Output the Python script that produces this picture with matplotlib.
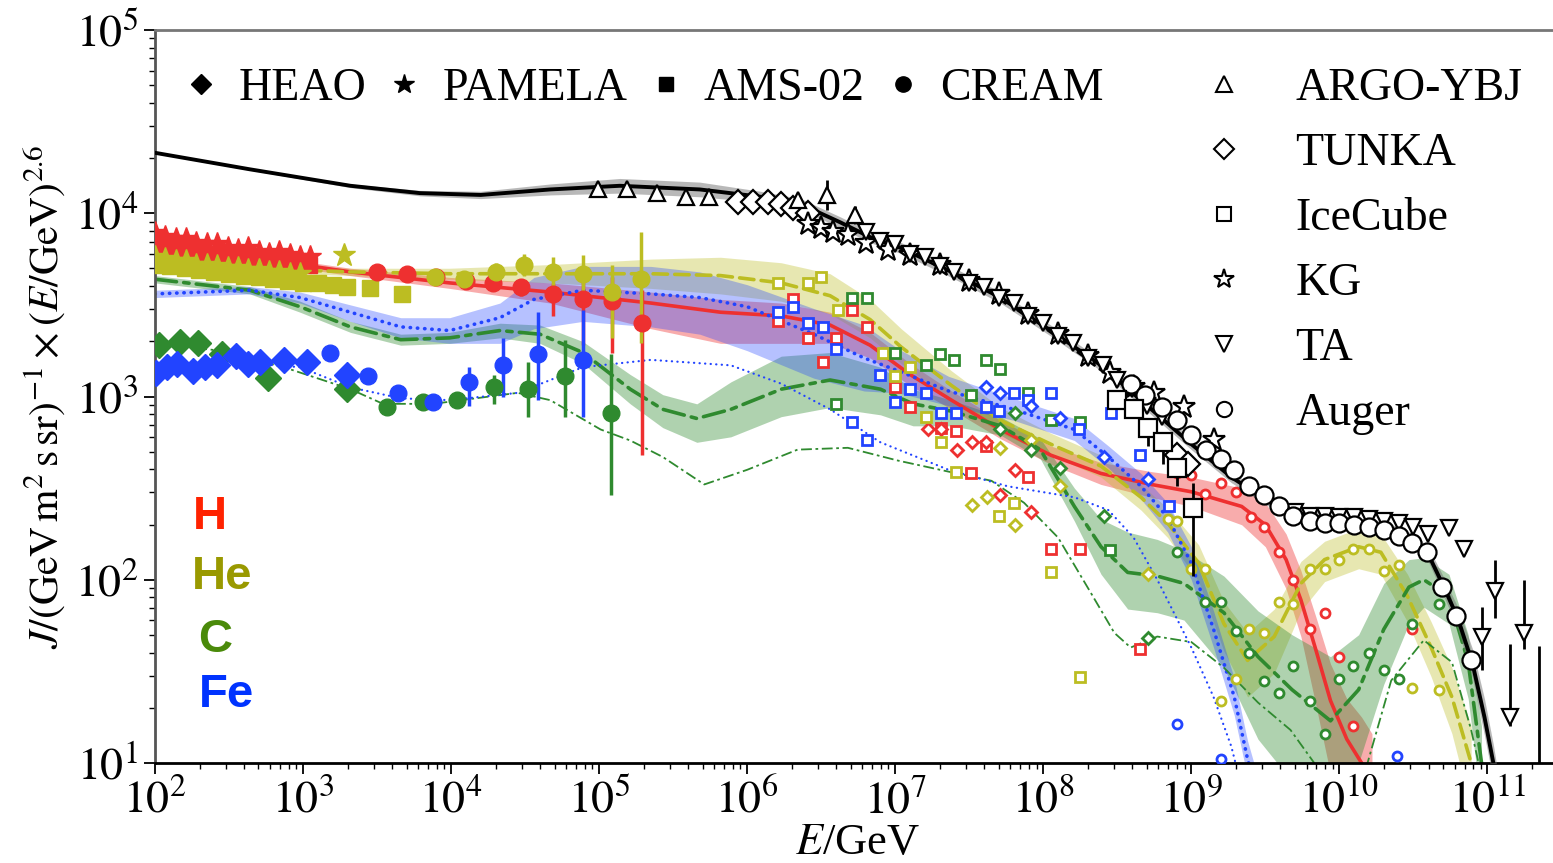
import numpy as np
import matplotlib.pyplot as plt
from matplotlib.lines import Line2D

plt.rcParams['font.family'] = ['Liberation Serif', 'DejaVu Serif']
plt.rcParams['mathtext.fontset'] = 'stix'

RED = '#ee3030'
OLIVE = '#bcbd22'
GREEN = '#2f8a2f'
BLUE = '#2244ff'

# ---------------- data: log10(E/GeV), log10(J E^2.6) ----------------
# all-particle fit (black) with its band
tot_lgE = [2.00, 2.64, 3.32, 3.79, 4.20, 4.67, 5.14, 5.68, 6.09, 6.36, 6.63, 6.83, 7.04, 7.38, 7.71, 8.05,
           8.39, 8.73, 9.00, 9.27, 9.50, 9.74, 10.00, 10.30, 10.50, 10.60, 10.70, 10.80, 10.90, 10.98, 11.04, 11.08]
tot_lgJ = [4.33, 4.24, 4.15, 4.11, 4.10, 4.13, 4.15, 4.13, 4.09, 4.05, 3.95, 3.87, 3.81, 3.68, 3.54, 3.36,
           3.17, 2.93, 2.74, 2.56, 2.44, 2.36, 2.32, 2.29, 2.22, 2.14, 1.97, 1.79, 1.54, 1.25, 1.00, 0.80]
tot_d = [0.005, 0.005, 0.01, 0.015, 0.02, 0.03, 0.04, 0.04, 0.03, 0.03, 0.03, 0.03, 0.03, 0.03, 0.03, 0.03,
         0.03, 0.03, 0.03, 0.03, 0.03, 0.03, 0.03, 0.03, 0.03, 0.04, 0.05, 0.06, 0.08, 0.10, 0.10, 0.10]

# H fit
H_lgE = [2.00, 2.64, 3.32, 3.99, 4.67, 5.35, 5.82, 6.23, 6.56, 6.83, 7.10, 7.38, 7.71, 8.05, 8.39, 8.73,
         9.00, 9.34, 9.50, 9.64, 9.74, 9.84, 9.94, 10.05, 10.15, 10.22]
H_lgJ = [3.85, 3.76, 3.68, 3.62, 3.57, 3.51, 3.46, 3.44, 3.39, 3.28, 3.12, 2.98, 2.82, 2.68, 2.58, 2.52,
         2.48, 2.40, 2.30, 2.11, 1.89, 1.62, 1.34, 1.13, 1.00, 0.91]
H_dlo = [0.02, 0.02, 0.02, 0.03, 0.06, 0.14, 0.17, 0.15, 0.10, 0.07, 0.06, 0.05, 0.05, 0.05, 0.06, 0.07,
         0.08, 0.10, 0.12, 0.16, 0.20, 0.30, 0.40, 0.50, 0.50, 0.50]
H_dhi = [0.02, 0.02, 0.02, 0.03, 0.05, 0.06, 0.07, 0.07, 0.07, 0.07, 0.06, 0.05, 0.05, 0.05, 0.06, 0.07,
         0.08, 0.10, 0.12, 0.14, 0.16, 0.18, 0.20, 0.22, 0.25, 0.25]

# He fit
He_lgE = [2.00, 2.64, 3.32, 3.99, 4.67, 5.35, 5.82, 6.23, 6.56, 6.83, 7.04, 7.38, 7.71, 8.05, 8.39, 8.66,
          8.84, 9.05, 9.22, 9.38, 9.56, 9.74, 9.90, 10.13, 10.28, 10.46, 10.62, 10.76, 10.89]
He_lgJ = [3.73, 3.70, 3.68, 3.67, 3.67, 3.67, 3.66, 3.62, 3.55, 3.42, 3.27, 3.06, 2.87, 2.74, 2.62, 2.45,
          2.31, 2.09, 1.76, 1.56, 1.69, 1.98, 2.11, 2.18, 2.15, 1.91, 1.63, 1.36, 1.00]
He_dlo = [0.02, 0.02, 0.02, 0.03, 0.05, 0.08, 0.10, 0.10, 0.10, 0.10, 0.09, 0.08, 0.07, 0.06, 0.06, 0.07,
          0.08, 0.10, 0.15, 0.20, 0.20, 0.15, 0.12, 0.12, 0.12, 0.14, 0.16, 0.20, 0.25]
He_dhi = [0.02, 0.02, 0.02, 0.03, 0.05, 0.08, 0.10, 0.11, 0.12, 0.11, 0.10, 0.08, 0.07, 0.06, 0.06, 0.07,
          0.08, 0.10, 0.12, 0.15, 0.15, 0.12, 0.10, 0.10, 0.10, 0.12, 0.14, 0.16, 0.20]

# C fit
C_lgE = [2.00, 2.64, 2.98, 3.32, 3.66, 3.99, 4.33, 4.60, 4.89, 5.21, 5.43, 5.66, 5.89, 6.23, 6.56, 6.90,
         7.12, 7.38, 7.71, 7.98, 8.21, 8.39, 8.57, 8.77, 8.95, 9.22, 9.45, 9.68, 9.94, 10.13, 10.30, 10.47,
         10.57, 10.74, 10.87, 10.96]
C_lgJ = [3.64, 3.58, 3.49, 3.38, 3.31, 3.32, 3.36, 3.34, 3.24, 3.04, 2.93, 2.88, 2.93, 3.04, 3.09, 3.04,
         2.96, 2.92, 2.84, 2.71, 2.40, 2.18, 2.04, 2.02, 1.98, 1.82, 1.58, 1.40, 1.23, 1.40, 1.73, 1.96,
         2.00, 1.91, 1.55, 1.00]
C_dlo = [0.02, 0.02, 0.03, 0.03, 0.03, 0.03, 0.04, 0.05, 0.06, 0.08, 0.10, 0.13, 0.15, 0.15, 0.15, 0.14,
         0.12, 0.08, 0.05, 0.05, 0.08, 0.15, 0.20, 0.20, 0.20, 0.30, 0.45, 0.50, 0.50, 0.40, 0.30, 0.20,
         0.15, 0.15, 0.20, 0.25]
C_dhi = [0.02, 0.02, 0.03, 0.03, 0.03, 0.03, 0.04, 0.05, 0.06, 0.08, 0.08, 0.08, 0.15, 0.18, 0.15, 0.12,
         0.08, 0.06, 0.05, 0.06, 0.10, 0.15, 0.22, 0.20, 0.18, 0.20, 0.25, 0.30, 0.35, 0.30, 0.25, 0.15,
         0.12, 0.12, 0.15, 0.20]

# Fe fit
Fe_lgE = [2.00, 2.64, 2.98, 3.32, 3.66, 3.99, 4.33, 4.56, 4.89, 5.35, 5.68, 6.00, 6.45, 6.79, 7.02, 7.36,
          7.80, 8.21, 8.44, 8.66, 8.84, 9.00, 9.15, 9.29, 9.38, 9.44]
Fe_lgJ = [3.56, 3.58, 3.54, 3.46, 3.38, 3.36, 3.43, 3.53, 3.58, 3.56, 3.54, 3.49, 3.34, 3.21, 3.14, 3.03,
          2.93, 2.82, 2.67, 2.51, 2.34, 2.09, 1.73, 1.36, 1.02, 0.85]
Fe_dlo = [0.02, 0.02, 0.03, 0.05, 0.06, 0.07, 0.14, 0.16, 0.17, 0.18, 0.20, 0.24, 0.24, 0.18, 0.12, 0.08,
          0.06, 0.06, 0.06, 0.07, 0.08, 0.09, 0.10, 0.10, 0.10, 0.10]
Fe_dhi = [0.02, 0.02, 0.03, 0.04, 0.05, 0.07, 0.08, 0.12, 0.13, 0.15, 0.14, 0.12, 0.14, 0.18, 0.12, 0.08,
          0.06, 0.06, 0.06, 0.07, 0.08, 0.09, 0.10, 0.10, 0.10, 0.10]

# second (thin) C and Fe curves
C2_lgE = [2.00, 2.44, 2.87, 3.32, 3.54, 3.88, 4.45, 4.67, 5.01, 5.21, 5.43, 5.71, 6.00, 6.34, 6.68, 7.02,
          7.36, 7.65, 7.87, 8.10, 8.32, 8.48, 8.59, 8.77, 9.00, 9.22, 9.45, 9.67, 9.83, 10.00, 10.19, 10.35,
          10.57, 10.76, 10.89, 10.94]
C2_lgJ = [3.29, 3.25, 3.16, 3.04, 2.96, 2.96, 3.02, 2.98, 2.82, 2.76, 2.67, 2.52, 2.60, 2.71, 2.72, 2.65,
          2.59, 2.54, 2.42, 2.23, 1.93, 1.71, 1.63, 1.69, 1.66, 1.52, 1.33, 1.18, 1.00, 0.70, 1.00, 1.45,
          1.67, 1.55, 1.18, 1.00]
Fe2_lgE = [2.00, 2.64, 2.98, 3.32, 3.66, 3.99, 4.45, 4.89, 5.35, 5.89, 6.23, 6.56, 6.90, 7.36, 7.76, 8.21,
           8.44, 8.61, 8.77, 9.00, 9.15, 9.27, 9.32]
Fe2_lgJ = [3.18, 3.18, 3.16, 3.05, 2.99, 2.98, 3.02, 3.16, 3.20, 3.17, 3.07, 2.93, 2.75, 2.60, 2.51, 2.45,
           2.38, 2.23, 2.00, 1.63, 1.36, 1.09, 0.93]

# direct measurements
PAM_H_lgE = [2.00, 2.07, 2.14, 2.21, 2.28, 2.35, 2.42, 2.49, 2.56, 2.63, 2.70, 2.77, 2.84, 2.91, 2.98, 3.05]
PAM_H_lgJ = [3.89, 3.87, 3.86, 3.86, 3.84, 3.83, 3.83, 3.81, 3.80, 3.81, 3.79, 3.78, 3.79, 3.77, 3.76, 3.76]
AMS_H_lgE = [2.00, 2.08, 2.16, 2.24, 2.32, 2.40, 2.48, 2.56, 2.64, 2.72, 2.80, 2.88, 2.96, 3.04]
AMS_H_lgJ = [3.83, 3.82, 3.81, 3.80, 3.79, 3.78, 3.77, 3.76, 3.76, 3.75, 3.74, 3.74, 3.73, 3.72]
PAM_He_lgE = [2.00, 2.07, 2.14, 2.21, 2.28, 2.35, 2.42, 2.49, 2.56, 2.63, 2.70, 2.77, 2.84, 2.91, 2.98, 3.28]
PAM_He_lgJ = [3.76, 3.75, 3.74, 3.74, 3.72, 3.72, 3.71, 3.70, 3.70, 3.69, 3.69, 3.68, 3.68, 3.67, 3.67, 3.77]
AMS_He_lgE = [2.00, 2.10, 2.20, 2.30, 2.40, 2.50, 2.60, 2.70, 2.80, 2.90, 3.00, 3.10, 3.20, 3.30, 3.45, 3.67]
AMS_He_lgJ = [3.72, 3.71, 3.70, 3.69, 3.68, 3.67, 3.66, 3.65, 3.64, 3.63, 3.62, 3.62, 3.61, 3.60, 3.59, 3.56]
HEAO_C_lgE = [2.03, 2.17, 2.29, 2.45, 2.76, 3.30]
HEAO_C_lgJ = [3.28, 3.30, 3.29, 3.23, 3.10, 3.04]
HEAO_Fe_lgE = [2.01, 2.08, 2.15, 2.26, 2.34, 2.42, 2.55, 2.63, 2.71, 2.87, 3.03, 3.30]
HEAO_Fe_lgJ = [3.13, 3.16, 3.18, 3.14, 3.16, 3.17, 3.22, 3.18, 3.19, 3.20, 3.19, 3.12]

CR_H_lgE = [3.50, 3.70, 3.90, 4.10, 4.28, 4.47, 4.69, 4.89, 5.09, 5.29]
CR_H_lgJ = [3.68, 3.67, 3.65, 3.63, 3.62, 3.60, 3.56, 3.53, 3.52, 3.40]
CR_H_elo = [0.02, 0.02, 0.02, 0.03, 0.03, 0.05, 0.12, 0.25, 0.28, 0.72]
CR_H_ehi = [0.02, 0.02, 0.02, 0.03, 0.03, 0.04, 0.06, 0.12, 0.13, 0.18]
CR_He_lgE = [3.89, 4.09, 4.30, 4.49, 4.69, 4.89, 5.09, 5.28]
CR_He_lgJ = [3.65, 3.64, 3.68, 3.72, 3.68, 3.67, 3.57, 3.64]
CR_He_elo = [0.02, 0.02, 0.05, 0.06, 0.10, 0.15, 0.25, 0.35]
CR_He_ehi = [0.02, 0.02, 0.05, 0.06, 0.08, 0.10, 0.15, 0.26]
CR_C_lgE = [3.57, 3.81, 4.04, 4.29, 4.52, 4.77, 5.08]
CR_C_lgJ = [2.94, 2.97, 2.98, 3.05, 3.04, 3.11, 2.91]
CR_C_elo = [0.02, 0.02, 0.03, 0.09, 0.15, 0.22, 0.45]
CR_C_ehi = [0.02, 0.02, 0.03, 0.07, 0.15, 0.20, 0.32]
CR_Fe_lgE = [3.18, 3.44, 3.64, 3.88, 4.12, 4.35, 4.59, 4.89]
CR_Fe_lgJ = [3.24, 3.11, 3.02, 2.97, 3.08, 3.17, 3.23, 3.20]
CR_Fe_elo = [0.02, 0.02, 0.02, 0.03, 0.13, 0.17, 0.25, 0.31]
CR_Fe_ehi = [0.02, 0.02, 0.02, 0.03, 0.08, 0.15, 0.23, 0.27]

# air-shower all-particle data
ARGO_lgE = [4.99, 5.19, 5.39, 5.59, 5.74, 6.34, 6.54, 6.73]
ARGO_lgJ = [4.13, 4.13, 4.11, 4.09, 4.09, 4.07, 4.10, 3.99]
ARGO_err = [0.03, 0.03, 0.03, 0.03, 0.03, 0.03, 0.08, 0.05]
TUN_lgE = [5.94, 6.04, 6.14, 6.23, 6.31, 6.41, 8.90, 8.98]
TUN_lgJ = [4.06, 4.06, 4.06, 4.05, 4.03, 4.00, 2.68, 2.63]
IC_lgE = [8.50, 8.61, 8.71, 8.81, 8.90, 9.01]
IC_lgJ = [2.98, 2.93, 2.83, 2.75, 2.61, 2.39]
IC_elo = [0.03, 0.05, 0.10, 0.12, 0.10, 0.37]
IC_ehi = [0.03, 0.03, 0.05, 0.05, 0.05, 0.14]
KG_lgE = [6.41, 6.50, 6.58, 6.68, 6.80, 6.95, 7.10, 7.30, 7.50, 7.70, 7.90, 8.10, 8.30, 8.45, 8.61, 8.75, 8.95, 9.15]
KG_lgJ = [3.94, 3.92, 3.90, 3.88, 3.84, 3.80, 3.77, 3.72, 3.63, 3.56, 3.45, 3.34, 3.22, 3.13, 3.05, 3.02, 2.94, 2.76]
TA_lgE = [6.8, 6.9, 7.0, 7.1, 7.2, 7.3, 7.4, 7.5, 7.6, 7.7, 7.8, 7.9, 8.0, 8.1, 8.2, 8.3, 8.4, 8.5, 8.6, 8.7,
          8.8, 9.7, 9.8, 9.9, 10.0, 10.1, 10.2, 10.3, 10.4, 10.5, 10.6, 10.74, 10.84]
TA_lgJ = [3.90, 3.85, 3.83, 3.78, 3.76, 3.71, 3.68, 3.62, 3.60, 3.54, 3.51, 3.44, 3.40, 3.33, 3.29, 3.21,
          3.17, 3.09, 3.04, 2.95, 2.89, 2.37, 2.35, 2.35, 2.34, 2.34, 2.33, 2.32, 2.31, 2.29, 2.25, 2.28, 2.17]
TAu_lgE = [10.96, 11.05, 11.15, 11.25, 11.35]
TAu_lgJ = [1.69, 1.94, 1.25, 1.71, 0.70]
TAu_top = [1.85, 2.11, 1.65, 2.00, 1.64]
TAu_bot = [1.51, 1.79, 1.20, 1.62, 0.60]
AUG_lgE = [8.59, 8.69, 8.80, 8.90, 9.00, 9.10, 9.20, 9.29, 9.39, 9.49, 9.59, 9.69, 9.80, 9.90, 10.00, 10.10,
           10.20, 10.30, 10.40, 10.49, 10.59, 10.69, 10.79, 10.89]
AUG_lgJ = [3.07, 3.01, 2.94, 2.87, 2.79, 2.71, 2.66, 2.60, 2.51, 2.46, 2.40, 2.35, 2.32, 2.31, 2.31, 2.30,
           2.29, 2.27, 2.24, 2.20, 2.15, 1.96, 1.80, 1.56]

# composition-resolved air-shower data (open squares, diamonds, circles)
sq_H_lgE = [6.21, 6.31, 6.41, 6.51, 6.60, 6.71, 6.81, 7.00, 7.10, 7.31, 7.41, 7.61, 7.51, 7.90, 8.05, 8.25, 8.65]
sq_H_lgJ = [3.41, 3.53, 3.32, 3.19, 3.32, 3.47, 3.38, 3.05, 2.94, 2.83, 2.81, 2.73, 2.58, 2.56, 2.17, 2.17, 1.62]
sq_He_lgE = [6.21, 6.41, 6.50, 6.61, 6.92, 7.00, 7.10, 7.21, 7.31, 7.41, 7.70, 7.80, 8.05, 8.25]
sq_He_lgJ = [3.62, 3.62, 3.65, 3.47, 3.24, 3.11, 3.16, 2.89, 2.75, 2.59, 2.35, 2.42, 2.04, 1.47]
sq_C_lgE = [6.71, 6.81, 6.60, 7.00, 7.21, 7.30, 7.40, 7.51, 7.61, 7.71, 7.90, 8.05, 8.25, 8.45]
sq_C_lgJ = [3.54, 3.54, 2.96, 3.24, 3.17, 3.23, 3.20, 3.01, 3.20, 3.15, 3.02, 2.87, 2.86, 2.16]
sq_Fe_lgE = [6.21, 6.31, 6.41, 6.51, 6.60, 6.71, 6.81, 6.90, 7.00, 7.10, 7.21, 7.31, 7.41, 7.61, 7.70, 7.80,
             7.90, 8.05, 8.24, 8.46, 8.65, 8.85]
sq_Fe_lgJ = [3.46, 3.49, 3.40, 3.38, 3.26, 2.86, 2.76, 3.12, 2.97, 3.04, 3.02, 2.91, 2.91, 2.94, 2.92, 3.02,
             2.98, 3.02, 2.82, 2.91, 2.68, 2.40]
dm_H_lgE = [7.22, 7.31, 7.42, 7.52, 7.61, 7.71, 7.81, 7.92]
dm_H_lgJ = [2.82, 2.82, 2.71, 2.75, 2.75, 2.46, 2.60, 2.37]
dm_He_lgE = [7.52, 7.62, 7.71, 7.81, 7.92, 8.11, 8.71]
dm_He_lgJ = [2.41, 2.45, 2.72, 2.30, 2.76, 2.51, 2.03]
dm_C_lgE = [7.71, 7.81, 7.92, 8.11, 8.41, 8.71]
dm_C_lgJ = [2.82, 2.91, 2.71, 2.61, 2.35, 1.68]
dm_Fe_lgE = [7.61, 7.71, 7.92, 8.11, 8.41, 8.71]
dm_Fe_lgJ = [3.05, 3.02, 2.95, 2.88, 2.67, 2.55]
ci_H_lgE = [8.90, 9.00, 9.09, 9.20, 9.30, 9.40, 9.49, 9.59, 9.69, 9.80, 9.90, 10.00, 10.09, 10.49]
ci_H_lgJ = [2.58, 2.57, 2.47, 2.53, 2.48, 2.34, 2.29, 2.15, 2.00, 1.73, 1.82, 1.58, 1.20, 1.73]
ci_He_lgE = [8.84, 8.90, 9.00, 9.09, 9.20, 9.30, 9.39, 9.49, 9.59, 9.69, 9.80, 9.90, 10.00, 10.09, 10.20,
             10.30, 10.40, 10.49, 10.67]
ci_He_lgJ = [2.33, 2.32, 2.06, 2.06, 1.34, 1.46, 1.73, 1.71, 1.88, 1.87, 2.06, 2.06, 2.11, 2.17, 2.17,
             2.05, 2.08, 1.41, 1.40]
ci_C_lgE = [8.90, 9.09, 9.20, 9.30, 9.39, 9.49, 9.59, 9.69, 9.80, 9.90, 10.00, 10.09, 10.20, 10.30, 10.40,
            10.49, 10.67]
ci_C_lgJ = [2.15, 1.88, 1.88, 1.72, 1.60, 1.45, 1.38, 1.53, 1.34, 1.16, 1.46, 1.53, 1.60, 1.51, 1.46, 1.76, 1.87]
ci_Fe_lgE = [8.90, 9.20, 10.39]
ci_Fe_lgJ = [1.21, 1.02, 1.04]

# axis decades
x_decades = [2, 3, 4, 5, 6, 7, 8, 9, 10, 11]
y_decades = [1, 2, 3, 4, 5]


def p10(a):
    return 10 ** np.asarray(a, dtype=float)


fig = plt.figure(figsize=(15.53, 8.63), dpi=100)
ax = fig.add_axes([0.0998, 0.1159, 0.9047, 0.8493])
ax.set_xscale('log')
ax.set_yscale('log')
ax.set_xlim(1e2, 10 ** 11.49)
ax.set_ylim(1e1, 1e5)

DOT = (0, (0.1, 1.9))
DASHDOT = (0, (6, 2, 1.5, 2))

# bands + fit lines
models = [
    (H_lgE, H_lgJ, H_dlo, H_dhi, RED, '-', 0.40),
    (He_lgE, He_lgJ, He_dlo, He_dhi, OLIVE, (0, (4, 2)), 0.35),
    (C_lgE, C_lgJ, C_dlo, C_dhi, GREEN, DASHDOT, 0.38),
    (Fe_lgE, Fe_lgJ, Fe_dlo, Fe_dhi, BLUE, DOT, 0.33),
]
for lgE, lgJ, dlo, dhi, col, ls, al in models:
    E = p10(lgE)
    lj = np.asarray(lgJ)
    ax.fill_between(E, p10(lj - np.asarray(dlo)), p10(lj + np.asarray(dhi)),
                    color=col, alpha=al, lw=0, zorder=1)
    ax.plot(E, p10(lgJ), color=col, ls=ls, lw=2.6, zorder=2, dash_capstyle='round')

ax.plot(p10(C2_lgE), p10(C2_lgJ), color=GREEN, lw=1.3, ls=DASHDOT, zorder=2)
ax.plot(p10(Fe2_lgE), p10(Fe2_lgJ), color=BLUE, lw=1.6, ls=(0, (0.1, 2.4)), dash_capstyle='round', zorder=2)

# all-particle
tj = np.asarray(tot_lgJ)
ax.fill_between(p10(tot_lgE), p10(tj - np.asarray(tot_d)), p10(tj + np.asarray(tot_d)),
                color='0.45', alpha=0.5, lw=0, zorder=5)
ax.plot(p10(tot_lgE), p10(tot_lgJ), color='k', lw=2.8, zorder=5)

# composition-resolved data
indirect = [
    (sq_H_lgE, sq_H_lgJ, dm_H_lgE, dm_H_lgJ, ci_H_lgE, ci_H_lgJ, RED),
    (sq_He_lgE, sq_He_lgJ, dm_He_lgE, dm_He_lgJ, ci_He_lgE, ci_He_lgJ, OLIVE),
    (sq_C_lgE, sq_C_lgJ, dm_C_lgE, dm_C_lgJ, ci_C_lgE, ci_C_lgJ, GREEN),
    (sq_Fe_lgE, sq_Fe_lgJ, dm_Fe_lgE, dm_Fe_lgJ, ci_Fe_lgE, ci_Fe_lgJ, BLUE),
]
for sqx, sqy, dmx, dmy, cix, ciy, col in indirect:
    ax.plot(p10(sqx), p10(sqy), 's', ms=6.5, mfc='white', mec=col, mew=2, zorder=3)
    ax.plot(p10(dmx), p10(dmy), 'D', ms=6.5, mfc='white', mec=col, mew=2, zorder=3)
    ax.plot(p10(cix), p10(ciy), 'o', ms=6.5, mfc='white', mec=col, mew=2, zorder=3)

# direct data
ax.plot(p10(AMS_H_lgE), p10(AMS_H_lgJ), 's', ms=11, color=RED, zorder=4)
ax.plot(p10(PAM_H_lgE), p10(PAM_H_lgJ), '*', ms=17, color=RED, zorder=4)
ax.plot(p10(AMS_He_lgE), p10(AMS_He_lgJ), 's', ms=11, color=OLIVE, zorder=4)
ax.plot(p10(PAM_He_lgE), p10(PAM_He_lgJ), '*', ms=17, color=OLIVE, zorder=4)
ax.plot(p10(HEAO_C_lgE), p10(HEAO_C_lgJ), 'D', ms=13, color=GREEN, zorder=4)
ax.plot(p10(HEAO_Fe_lgE), p10(HEAO_Fe_lgJ), 'D', ms=13, color=BLUE, zorder=4)

for lgE, lgJ, elo, ehi, col in [(CR_H_lgE, CR_H_lgJ, CR_H_elo, CR_H_ehi, RED),
                                (CR_He_lgE, CR_He_lgJ, CR_He_elo, CR_He_ehi, OLIVE),
                                (CR_C_lgE, CR_C_lgJ, CR_C_elo, CR_C_ehi, GREEN),
                                (CR_Fe_lgE, CR_Fe_lgJ, CR_Fe_elo, CR_Fe_ehi, BLUE)]:
    J = p10(lgJ)
    yerr = [J - J * p10(-np.asarray(elo)), J * p10(ehi) - J]
    ax.errorbar(p10(lgE), J, yerr=yerr, fmt='o', ms=12, color=col, elinewidth=2.5, capsize=0, zorder=4)

# all-particle air-shower data
kw = dict(mfc='white', mec='k', mew=1.6, color='k', zorder=6)
J = p10(ARGO_lgJ)
ax.errorbar(p10(ARGO_lgE), J, yerr=[J - J * p10(-np.asarray(ARGO_err)), J * p10(ARGO_err) - J],
            fmt='^', ms=12, elinewidth=2, capsize=0, **kw)
ax.plot(p10(TUN_lgE), p10(TUN_lgJ), 'D', ms=12, ls='none', **kw)
ax.plot(p10(KG_lgE), p10(KG_lgJ), '*', ms=17, ls='none', **kw)
ax.plot(p10(TA_lgE), p10(TA_lgJ), 'v', ms=12, ls='none', **kw)
J = p10(TAu_lgJ)
ax.errorbar(p10(TAu_lgE), J, yerr=[J - p10(TAu_bot), p10(TAu_top) - J],
            fmt='v', ms=12, elinewidth=2, capsize=0, **kw)
J = p10(IC_lgJ)
ax.errorbar(p10(IC_lgE), J, yerr=[J - J * p10(-np.asarray(IC_elo)), J * p10(IC_ehi) - J],
            fmt='s', ms=13, elinewidth=2, capsize=0, **kw)
ax.plot(p10(AUG_lgE), p10(AUG_lgJ), 'o', ms=13, ls='none', **kw)

# legends
h1 = [Line2D([], [], marker=m, color='k', ls='none', ms=s) for m, s in
      [('D', 10), ('*', 15), ('s', 10), ('o', 11)]]
leg1 = ax.legend(h1, ['HEAO', 'PAMELA', 'AMS-02', 'CREAM'], loc='upper left', ncol=4, frameon=False,
                 bbox_to_anchor=(9 / 1405, 1 - 19 / 733), fontsize=33, handlelength=0.8,
                 handletextpad=0.43, columnspacing=0.43, borderaxespad=0, borderpad=0.4)
ax.add_artist(leg1)
h2 = [Line2D([], [], marker=m, color='k', mfc='white', mew=1.5, ls='none', ms=s) for m, s in
      [('^', 11), ('D', 10), ('s', 10), ('*', 15), ('v', 11), ('o', 11)]]
ax.legend(h2, ['ARGO-YBJ', 'TUNKA', 'IceCube', 'KG', 'TA', 'Auger'], loc='upper left',
          bbox_to_anchor=(0.7345, 1 - 19 / 733), frameon=False, fontsize=33, handlelength=0.8,
          handletextpad=1.17, labelspacing=0.49, borderaxespad=0, borderpad=0.4)

# element labels
for txt, col, x, y in [('H', '#ff2200', 0.027, 0.336), ('He', '#999900', 0.026, 0.254),
                       ('C', '#4a8a0a', 0.031, 0.168), ('Fe', '#0033ff', 0.031, 0.093)]:
    ax.text(x, y, txt, color=col, fontsize=34, fontweight='bold', family='Liberation Sans',
            transform=ax.transAxes, va='center', ha='left')

ax.set_xlabel(r'$E$/GeV', fontsize=32, labelpad=0)
ax.set_ylabel(r'$J/(\mathrm{GeV\,m^2\,s\,sr})^{-1}\times(E/\mathrm{GeV})^{2.6}$', fontsize=30, labelpad=5)

# ticks: decades only for major, 2..9 minors, all outward
ax.set_xticks(p10(x_decades))
ax.set_xticklabels([rf'$10^{{{d}}}$' for d in x_decades])
ax.set_yticks(p10(y_decades))
ax.set_yticklabels([rf'$10^{{{d}}}$' for d in y_decades])
ax.set_xticks([m * 10.0 ** d for d in x_decades for m in range(2, 10)
               if m * 10.0 ** d < 10 ** 11.49], minor=True)
ax.set_yticks([m * 10.0 ** d for d in y_decades[:-1] for m in range(2, 10)], minor=True)
ax.xaxis.set_minor_formatter(plt.NullFormatter())
ax.yaxis.set_minor_formatter(plt.NullFormatter())
ax.tick_params(which='major', labelsize=33, length=8, width=1.3, direction='out', pad=4)
ax.tick_params(which='minor', length=4, width=1.0, direction='out')
for s in ax.spines.values():
    s.set_linewidth(2)
ax.spines['left'].set_color('#555555')
ax.spines['top'].set_color('#777777')
ax.spines['bottom'].set_color('k')

fig.savefig('out.png', dpi=100)
